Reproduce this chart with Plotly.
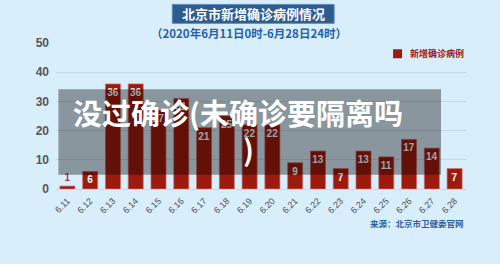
import plotly.graph_objects as go

dates = ["6.11", "6.12", "6.13", "6.14", "6.15", "6.16", "6.17", "6.18", "6.19",
         "6.20", "6.21", "6.22", "6.23", "6.24", "6.25", "6.26", "6.27", "6.28"]
cases = [1, 6, 36, 36, 27, 31, 21, 25, 22, 22, 9, 13, 7, 13, 11, 17, 14, 7]
series_name = "新增确诊病例"
title_text = "北京市新增确诊病例情况"
subtitle_text = "（2020年6月11日0时-6月28日24时）"
source_text = "来源：北京市卫健委官网"
overlay_line1 = "没过确诊(未确诊要隔离吗"
overlay_line2 = ")"

W, H = 500, 264
L, R, T, B = 55.6, 34, 42.7, 74.8
PW, PH = W - L - R, H - T - B

def px(x):
    return (x - L) / PW

def py(y):
    return (H - B - y) / PH

BG = "#d9eefb"
BAR = "#9c1a0e"
CJK = "Noto Sans CJK SC"

text_pos = ["outside" if v < 3 else "inside" for v in cases]
text_col = ["#b3305f" if v < 3 else "white" for v in cases]

fig = go.Figure()
fig.add_trace(go.Bar(
    x=dates, y=cases, name=series_name,
    marker=dict(color=BAR, line=dict(color="rgba(205,110,110,0.7)", width=1)),
    text=[str(v) for v in cases],
    textposition=text_pos,
    insidetextanchor="end",
    textangle=0,
    constraintext="none",
    textfont=dict(family="Liberation Sans", size=10, color=text_col, weight="bold"),
    cliponaxis=False,
    width=0.66,
    showlegend=False,
))

fig.update_layout(
    width=W, height=H, autosize=False,
    margin=dict(l=L, r=R, t=T, b=B, pad=0),
    paper_bgcolor=BG, plot_bgcolor=BG,
    bargap=0.34,
    xaxis=dict(
        type="category", tickangle=-45, showgrid=False, showline=False, zeroline=False,
        ticks="", ticklabelstandoff=4,
        tickfont=dict(family="Liberation Sans", size=9, color="#505050"),
        range=[-0.5, len(dates) - 0.5],
    ),
    yaxis=dict(
        range=[0, 50], tickvals=[0, 10, 20, 30, 40, 50], showgrid=True,
        gridcolor="#c3d9e8", gridwidth=1, zeroline=True, zerolinecolor="#c3d9e8",
        zerolinewidth=1, showline=False, ticks="", ticklabelstandoff=6,
        tickfont=dict(family="Liberation Sans", size=12, color="#555555", weight="bold"),
    ),
)

# title box
fig.add_shape(type="rect", xref="paper", yref="paper",
              x0=px(172), x1=px(334), y0=py(23), y1=py(4),
              fillcolor="#2d5c8f", line=dict(color="#5f8bb8", width=1), layer="above")
fig.add_annotation(xref="paper", yref="paper", x=px(253), y=py(13.5),
                   text="<b>" + title_text + "</b>", showarrow=False,
                   font=dict(family=CJK, size=13, color="white"),
                   xanchor="center", yanchor="middle")
fig.add_annotation(xref="paper", yref="paper", x=px(249), y=py(33),
                   text="<b>" + subtitle_text + "</b>", showarrow=False,
                   font=dict(family=CJK, size=11.5, color="#2462a6"),
                   xanchor="center", yanchor="middle")

# legend
fig.add_shape(type="rect", xref="paper", yref="paper",
              x0=px(393), x1=px(402), y0=py(58), y1=py(49),
              fillcolor=BAR, line=dict(width=0), layer="above")
fig.add_annotation(xref="paper", yref="paper", x=px(408), y=py(53.5),
                   text="<b>" + series_name + "</b>", showarrow=False,
                   font=dict(family=CJK, size=9, color="#9c1a1a"),
                   xanchor="left", yanchor="middle")

# source
fig.add_annotation(xref="paper", yref="paper", x=px(466), y=py(223),
                   text="<b>" + source_text + "</b>", showarrow=False,
                   font=dict(family=CJK, size=8.5, color="#2a5fa0"),
                   xanchor="right", yanchor="middle")

# overlay
fig.add_shape(type="rect", xref="paper", yref="paper",
              x0=px(58), x1=px(441), y0=py(175), y1=py(89),
              fillcolor="rgba(0,0,0,0.37)", line=dict(width=0), layer="above")
fig.add_annotation(xref="paper", yref="paper", x=px(71), y=py(112),
                   text="<b>" + overlay_line1 + "</b>", showarrow=False,
                   font=dict(family=CJK, size=29, color="white"),
                   xanchor="left", yanchor="middle")
fig.add_annotation(xref="paper", yref="paper", x=px(248), y=py(148),
                   text="<b>" + overlay_line2 + "</b>", showarrow=False,
                   font=dict(family=CJK, size=29, color="white"),
                   xanchor="center", yanchor="middle")

fig.write_html("out.html")
